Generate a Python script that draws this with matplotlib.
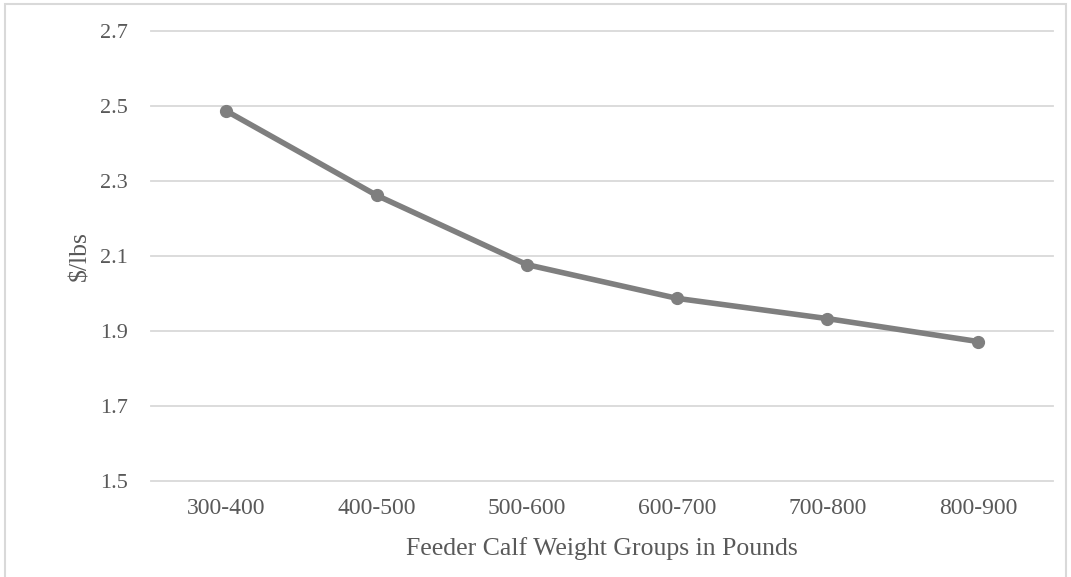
import matplotlib.pyplot as plt
from matplotlib.patches import Rectangle

categories = ["300-400", "400-500", "500-600", "600-700", "700-800", "800-900"]
prices = [2.487, 2.262, 2.077, 1.987, 1.933, 1.872]
y_ticks = [1.5, 1.7, 1.9, 2.1, 2.3, 2.5, 2.7]

plt.rcParams['font.family'] = ['Liberation Serif', 'DejaVu Serif']

fig = plt.figure(figsize=(10.71, 5.77), dpi=100)
ax = fig.add_axes([151 / 1071, 1 - 481 / 577, (1053 - 151) / 1071, (481 - 31) / 577])

# light frame around the whole chart, as in the Excel export
fig.patches.append(Rectangle((5 / 1071, -0.01), 1061 / 1071, 1 - 4 / 577 + 0.01,
                             transform=fig.transFigure, fill=False,
                             edgecolor='#d9d9d9', linewidth=1.5))

x = list(range(len(categories)))
ax.plot(x, prices, color='#7f7f7f', linewidth=4, marker='o', markersize=8.5,
        solid_capstyle='round', zorder=3)

ax.set_xlim(-0.5, len(categories) - 0.5)
ax.set_ylim(1.5, 2.7)
ax.set_yticks(y_ticks)
ax.set_yticklabels([f"{v:.1f}" for v in y_ticks])
ax.set_xticks(x)
ax.set_xticklabels(categories)
ax.grid(axis='y', color='#d9d9d9', linewidth=1.3)
for gl in ax.get_ygridlines():
    gl.set_clip_on(False)
ax.set_axisbelow(True)
for s in ax.spines.values():
    s.set_visible(False)
ax.tick_params(length=0, colors='#595959')
ax.tick_params(axis='x', labelsize=17, pad=12)
ax.tick_params(axis='y', labelsize=16, pad=16.5)

ax.set_xlabel("Feeder Calf Weight Groups in Pounds", fontsize=18.5, color='#595959')
ax.xaxis.set_label_coords(0.5, -0.149)
ax.xaxis.label.set_va('center')
ax.set_ylabel("$/lbs", fontsize=18.5, color='#595959')
ax.yaxis.set_label_coords(-0.0787, 0.5)
ax.yaxis.label.set_va('center')

fig.savefig("out.png", dpi=100)
